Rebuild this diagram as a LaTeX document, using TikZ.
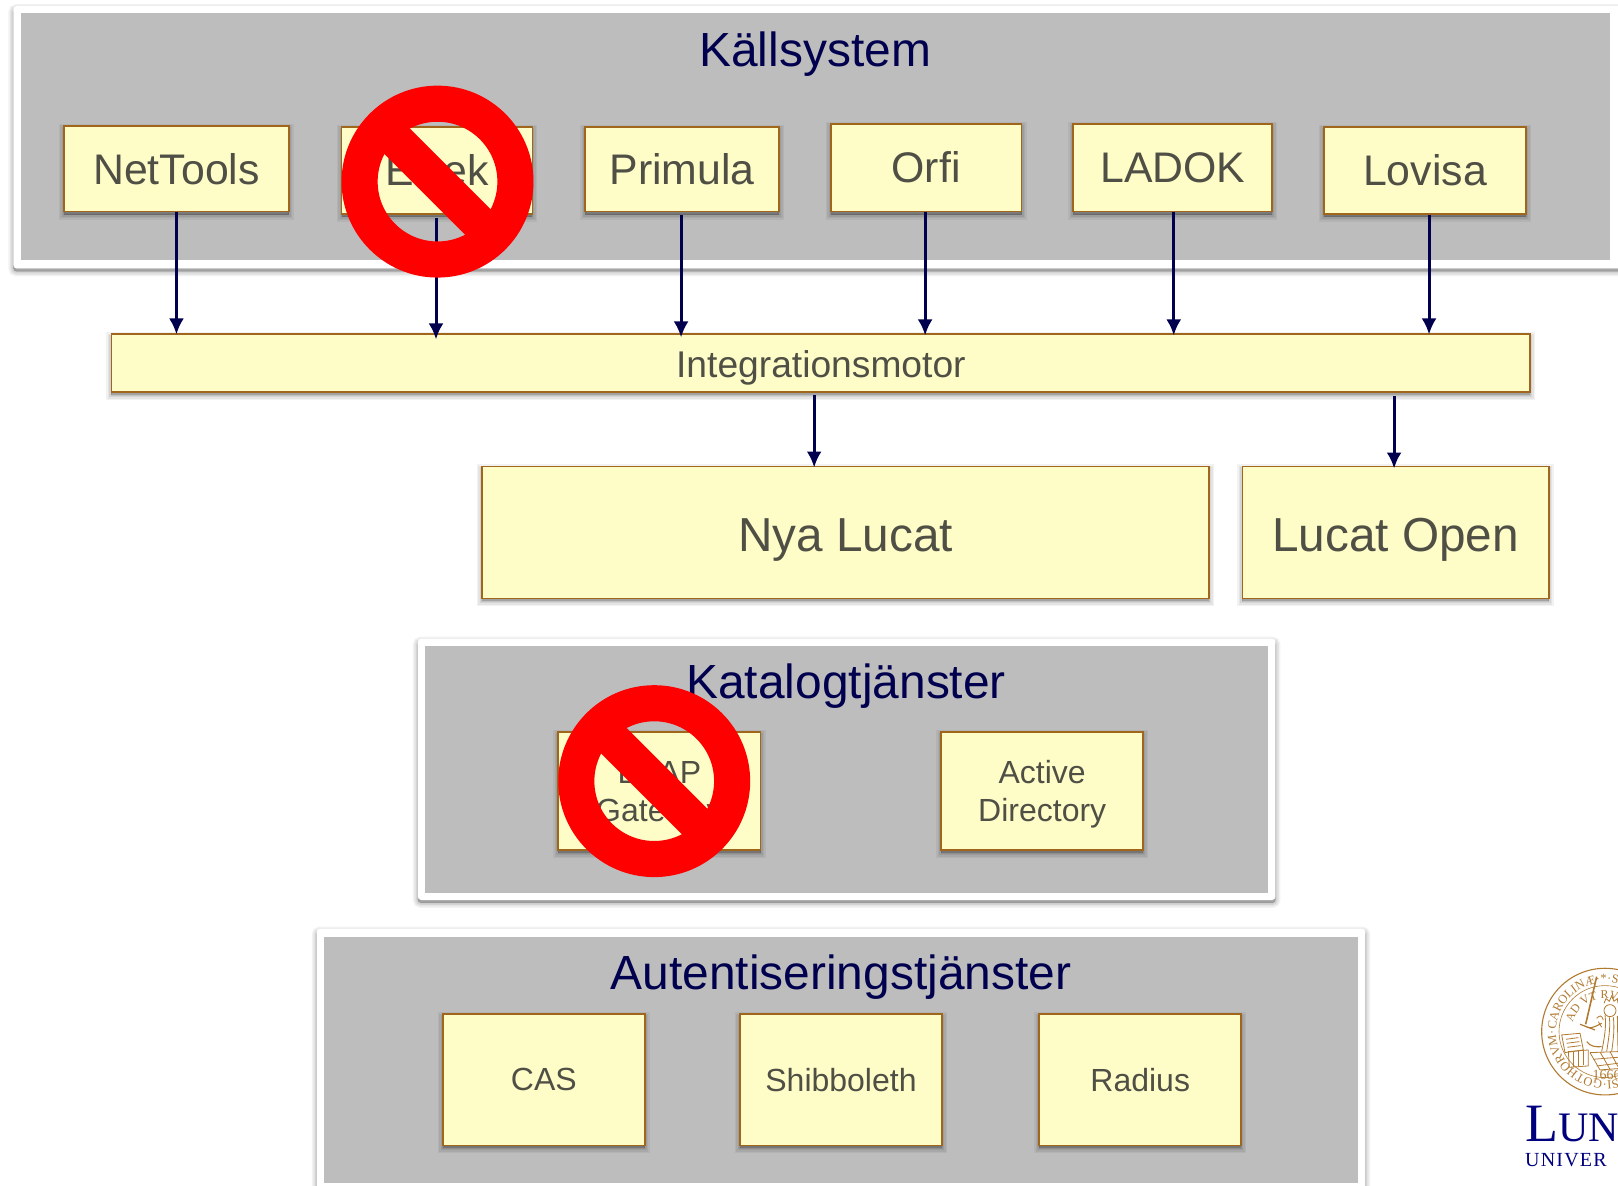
\documentclass[tikz,border=0pt]{standalone}
\usepackage{fontspec}
\setmainfont{Liberation Sans}
\newfontfamily\logoserif{Liberation Serif}
\usetikzlibrary{fit,arrows.meta,decorations.text,calc}
\definecolor{panelgray}{HTML}{BDBDBD}
\definecolor{boxfill}{HTML}{FEFDC8}
\definecolor{boxline}{HTML}{A0661C}
\definecolor{boxtext}{HTML}{4F4F45}
\definecolor{navytext}{HTML}{00004F}
\definecolor{logobrown}{HTML}{B07A30}
\definecolor{logoblue}{HTML}{00007F}
\tikzset{
  softshadow/.style={
    preaction={draw=black,draw opacity=.05,fill=black,fill opacity=.05,line width=10pt,transform canvas={yshift=-3pt}},
    preaction={draw=black,draw opacity=.06,fill=black,fill opacity=.06,line width=7pt,transform canvas={yshift=-3pt}},
    preaction={draw=black,draw opacity=.07,fill=black,fill opacity=.07,line width=4pt,transform canvas={yshift=-3pt}},
    preaction={draw=black,draw opacity=.08,fill=black,fill opacity=.08,line width=1pt,transform canvas={yshift=-3pt}}},
  frame/.style={softshadow,fill=white,draw=none,inner sep=0pt,rounded corners=3pt},
  panel/.style={fill=panelgray,draw=none,inner sep=0pt},
  ybox/.style={softshadow,fill=boxfill,draw=boxline,line width=1.8pt,inner sep=0pt,text=boxtext,align=center},
  smalltxt/.style={font=\fontsize{32}{38}\selectfont},
  midtxt/.style={font=\fontsize{37.2}{40}\selectfont,text height=29.4pt,text depth=0pt},
  stdtxt/.style={font=\fontsize{42.8}{46}\selectfont},
  bigtxt/.style={font=\fontsize{47.7}{52}\selectfont,text height=37.2pt,text depth=0pt},
  title/.style={text=navytext,font=\fontsize{47.9}{52}\selectfont,inner sep=0pt},
  conn/.style={draw=navytext,line width=3pt,-{Latex[length=16pt,width=15pt]}},
  logoline/.style={draw=logobrown,line width=.8pt},
}
\newcommand{\bx}[7][]{%
  \pgfmathsetmacro\bxw{(#5-#3)*1.03189}%
  \pgfmathsetmacro\bxh{(#6-#4)*1.03189}%
  \pgfmathsetmacro\bxcx{(#5+#3)/2}%
  \pgfmathsetmacro\bxcy{(#6+#4)/2}%
  \node[ybox,#1,minimum width=\bxw pt,minimum height=\bxh pt] (#2) at (\bxcx,\bxcy) {#7};%
}
\newcommand{\nosign}[2]{%
  \draw[red,line width=36.1pt] (#1,#2) circle (75.5);
  \draw[red,line width=36.1pt] ($(#1,#2)+(-55,-55)$) -- ($(#1,#2)+(55,55)$);
}
\begin{document}
\begin{tikzpicture}[x=1.03189pt,y=-1.03189pt]
\useasboundingbox (0,0) rectangle (1568,1149.35);
\clip (0,0) rectangle (1568,1149.35);

% panels
\node[frame,fit={(13,6)(1590,260)}] (kframe) {};
\node[panel,fit={(20,13)(1560,252)}] (kpanel) {};
\node[title] (ktitle) at (790,52) {Källsystem};
\node[frame,fit={(405,619)(1236,872)}] (cframe) {};
\node[panel,fit={(412,626)(1229,865)}] (cpanel) {};
\node[title] (ctitle) at (820,665) {Katalogtjänster};
\node[frame,fit={(307,900)(1323,1190)}] (aframe) {};
\node[panel,fit={(314,908)(1316,1146)}] (apanel) {};
\node[title] (atitle) at (815,947) {Autentiseringstjänster};

% source boxes
\bx[stdtxt]{nettools}{62}{122}{280}{205}{NetTools}
\bx[stdtxt]{ek}{331}{123}{516}{207}{E\hspace{30pt}ek}
\bx[stdtxt]{primula}{567}{123}{755}{205}{Primula}
\bx[stdtxt]{orfi}{805}{120}{990}{205}{Orfi}
\bx[stdtxt]{ladok}{1040}{120}{1233}{205}{LADOK}
\bx[stdtxt]{lovisa}{1283}{123}{1479}{207}{Lovisa}

\bx[midtxt]{integ}{108}{324}{1483}{380}{Integrationsmotor}
\bx[bigtxt]{nya}{467}{452}{1172}{580}{Nya Lucat}
\bx[bigtxt]{open}{1204}{452}{1501}{580}{Lucat Open}

\bx[smalltxt]{ldap}{541}{709}{737}{824}{\rule{0pt}{29.6pt}LDAP\\Gateway}
\bx[smalltxt]{ad}{912}{709}{1108}{824}{\rule{0pt}{29.6pt}Active\\Directory}
\bx[smalltxt]{cas}{429}{983}{625}{1110}{CAS}
\bx[smalltxt]{shib}{717}{983}{913}{1110}{Shibboleth}
\bx[smalltxt]{radius}{1007}{983}{1203}{1110}{Radius}

% connectors
\draw[conn,shorten >=-1pt] (nettools.south) -- (nettools.south |- integ.north);
\draw[conn,shorten <=3pt,shorten >=-6pt] ([xshift=-1pt]ek.south) -- ([xshift=-1pt]ek.south |- integ.north);
\draw[conn,shorten <=3pt,shorten >=-4pt] ([xshift=-1pt]primula.south) -- ([xshift=-1pt]primula.south |- integ.north);
\draw[conn,shorten >=-2pt] ([xshift=-1pt]orfi.south) -- ([xshift=-1pt]orfi.south |- integ.north);
\draw[conn,shorten >=-2pt] ([xshift=1pt]ladok.south) -- ([xshift=1pt]ladok.south |- integ.north);
\draw[conn,shorten >=-1pt] ([xshift=4pt]lovisa.south) -- ([xshift=4pt]lovisa.south |- integ.north);
\coordinate (ni) at (integ.south -| 789,0);
\coordinate (oi) at (integ.south -| 1351,0);
\draw[conn,shorten <=2pt,shorten >=-2pt] (ni) -- (ni |- nya.north);
\draw[conn,shorten <=3pt,shorten >=-3pt] (oi) -- (oi |- open.north);

% prohibition signs
\nosign{424}{176}
\nosign{634}{757}

% logo, in coordinates relative to its own corner
\begin{scope}[shift={(1405.2,910.9)},x=.3333pt,y=-.3333pt]
  \draw[logoline,line width=1.1pt] (465,275) circle (190);
  \draw[logoline,line width=.6pt] (465,275) circle (138);
  \path[decorate,decoration={text along path,text align=center,
     text={|\logoserif\fontsize{12.5}{12.5}\selectfont\color{logobrown}|SI·GOTHORVM·CAROLINÆ·*·S}}]
     (465,275) ++(62:147) arc (62:298:147);
  \path[decorate,decoration={text along path,text align=left,
     text={|\logoserif\fontsize{12}{12}\selectfont\color{logobrown}|AD VT RVM}}]
     (465,275) ++(195:100) arc (195:330:100);
  \node[text=logobrown,font=\logoserif\fontsize{14}{14}\selectfont,inner sep=0pt] (year) at (470,405) {1666};
  % sword
  \draw[logoline,line width=1.6pt] (440,110) -- (407,253);
  \draw[logoline,line width=1.2pt] (390,253) -- (435,270);
  % book and stand
  \draw[logoline] (335,285) -- (390,280) -- (400,330) -- (345,338) -- cycle;
  \draw[logoline] (348,298) -- (385,293) (350,310) -- (388,305) (352,322) -- (392,317);
  \draw[logoline] (355,335) -- (415,330) -- (415,378) -- (358,382) -- cycle;
  \draw[logoline] (370,335) -- (370,380) (385,334) -- (385,378) (400,332) -- (400,376);
  % figure
  \draw[logoline] (480,212) circle (18);
  \draw[logoline] (462,190) -- (468,176) -- (478,184) -- (485,168) -- (492,184) -- (502,176) -- (504,190);
  \draw[logoline] (465,225) .. controls (470,260) and (462,300) .. (455,335);
  \draw[logoline] (478,232) .. controls (482,265) and (475,300) .. (470,335);
  \draw[logoline] (490,232) .. controls (494,265) and (490,300) .. (485,335);
  \draw[logoline] (502,228) -- (504,335);
  \draw[logoline,line width=1.1pt] (410,262) .. controls (425,268) and (445,255) .. (455,250);
  \draw[logoline] (440,235) .. controls (450,225) and (455,225) .. (460,240) (445,245) -- (455,262);
  \draw[logoline,line width=1.1pt] (410,305) .. controls (420,320) and (440,322) .. (455,320);
  % tiles
  \draw[logoline] (420,338) -- (504,335) (430,358) -- (504,352) (440,378) -- (504,370) (450,390) -- (504,386);
  \draw[logoline] (420,338) -- (450,390) (450,336) -- (480,388) (480,335) -- (504,380);
  % name
  \node[anchor=base west,inner sep=0pt,text=logoblue,font=\logoserif\fontsize{54}{54}\selectfont] (lund) at (225,605)
     {L\fontsize{42}{42}\selectfont UN};
  \node[anchor=base west,inner sep=0pt,text=logoblue,font=\logoserif\fontsize{20}{20}\selectfont] (univ) at (225,680)
     {U\kern1.2pt N\kern1.2pt I\kern1.2pt V\kern1.2pt E\kern1.2pt R};
\end{scope}
\end{tikzpicture}
\end{document}
